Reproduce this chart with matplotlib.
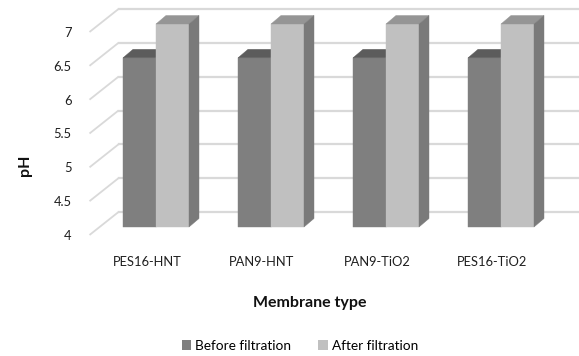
import matplotlib.pyplot as plt
from matplotlib.patches import Polygon, Patch

membranes = ["PES16-HNT", "PAN9-HNT", "PAN9-TiO2", "PES16-TiO2"]
ph_before = [6.5, 6.5, 6.5, 6.5]
ph_after = [7.0, 7.0, 7.0, 7.0]
series_labels = ["Before filtration", "After filtration"]
y_ticks = [4, 4.5, 5, 5.5, 6, 6.5, 7]
y_tick_labels = ["4", "4.5", "5", "5.5", "6", "6.5", "7"]

plt.rcParams['font.family'] = ['Lato', 'DejaVu Sans']

W, H = 579, 356
fig = plt.figure(figsize=(W / 100, H / 100), dpi=100)
# front plane of the pseudo-3D box
ax = fig.add_axes([89.5 / W, (H - 235) / H, 460 / W, 203 / H])
ax.set_xlim(-0.5, 3.5)
ax.set_ylim(4, 7)
ax.patch.set_visible(False)
for s in ax.spines.values():
    s.set_visible(False)

# pixel offsets -> data units
px_x = 1 / 115.0
px_y = 3 / 203.0

wall = (29 * px_x, 23 * px_y)     # back wall depth
bar_front = (9 * px_x, 8 * px_y)  # bars sit a little behind the front plane
bar_depth = (10 * px_x, 8.5 * px_y)
bar_w = 33 * px_x

grid_c = "#d9d9d9"
for v in y_ticks:
    ax.plot([-0.5, -0.5 + wall[0]], [v, v + wall[1]], color=grid_c, lw=1.3,
            solid_capstyle="butt", clip_on=False, zorder=1)
    ax.plot([-0.5 + wall[0], 3.5 + wall[0]], [v + wall[1], v + wall[1]],
            color=grid_c, lw=1.6, clip_on=False, zorder=1)


def draw_bar(x0, base, top, front_c, top_c, side_c, z):
    x0 = x0 + bar_front[0]
    x1 = x0 + bar_w
    b = base + bar_front[1]
    t = top + bar_front[1]
    dx, dy = bar_depth
    faces = [
        ([(x0, b), (x1, b), (x1, t), (x0, t)], front_c),
        ([(x0, t), (x1, t), (x1 + dx, t + dy), (x0 + dx, t + dy)], top_c),
        ([(x1, b), (x1 + dx, b + dy), (x1 + dx, t + dy), (x1, t)], side_c),
    ]
    for pts, c in faces:
        ax.add_patch(Polygon(pts, closed=True, facecolor=c, edgecolor=c,
                             lw=0.3, clip_on=False, zorder=z))


for i in range(len(membranes)):
    left = i - bar_w
    draw_bar(left, 4, ph_before[i], "#7f7f7f", "#5c5c5c", "#6a6a6a", 3)
    draw_bar(i, 4, ph_after[i], "#c0c0c0", "#959595", "#7a7a7a", 4)

ax.set_yticks(y_ticks)
ax.set_yticklabels(y_tick_labels)
ax.set_xticks(range(len(membranes)))
ax.set_xticklabels(membranes)
ax.tick_params(axis="both", length=0, labelsize=9.3, labelcolor="#1f1f1f")
ax.tick_params(axis="y", pad=13)
ax.tick_params(axis="x", pad=15)

fig.text(25 / W, 1 - 165 / H, "pH", rotation=90, ha="center", va="center",
         fontsize=11.5, fontweight="bold", color="#111111")
fig.text(310 / W, 1 - 303 / H, "Membrane type", ha="center", va="center",
         fontsize=11.5, fontweight="bold", color="#111111")

handles = [Patch(facecolor="#7f7f7f"), Patch(facecolor="#c0c0c0")]
fig.legend(handles, series_labels, loc="center", ncol=2,
           bbox_to_anchor=(300 / W, 1 - 346 / H), frameon=False,
           fontsize=9.8, handlelength=0.7, handleheight=0.7,
           handletextpad=0.3, columnspacing=2.0)

fig.savefig("out.png", dpi=100)
